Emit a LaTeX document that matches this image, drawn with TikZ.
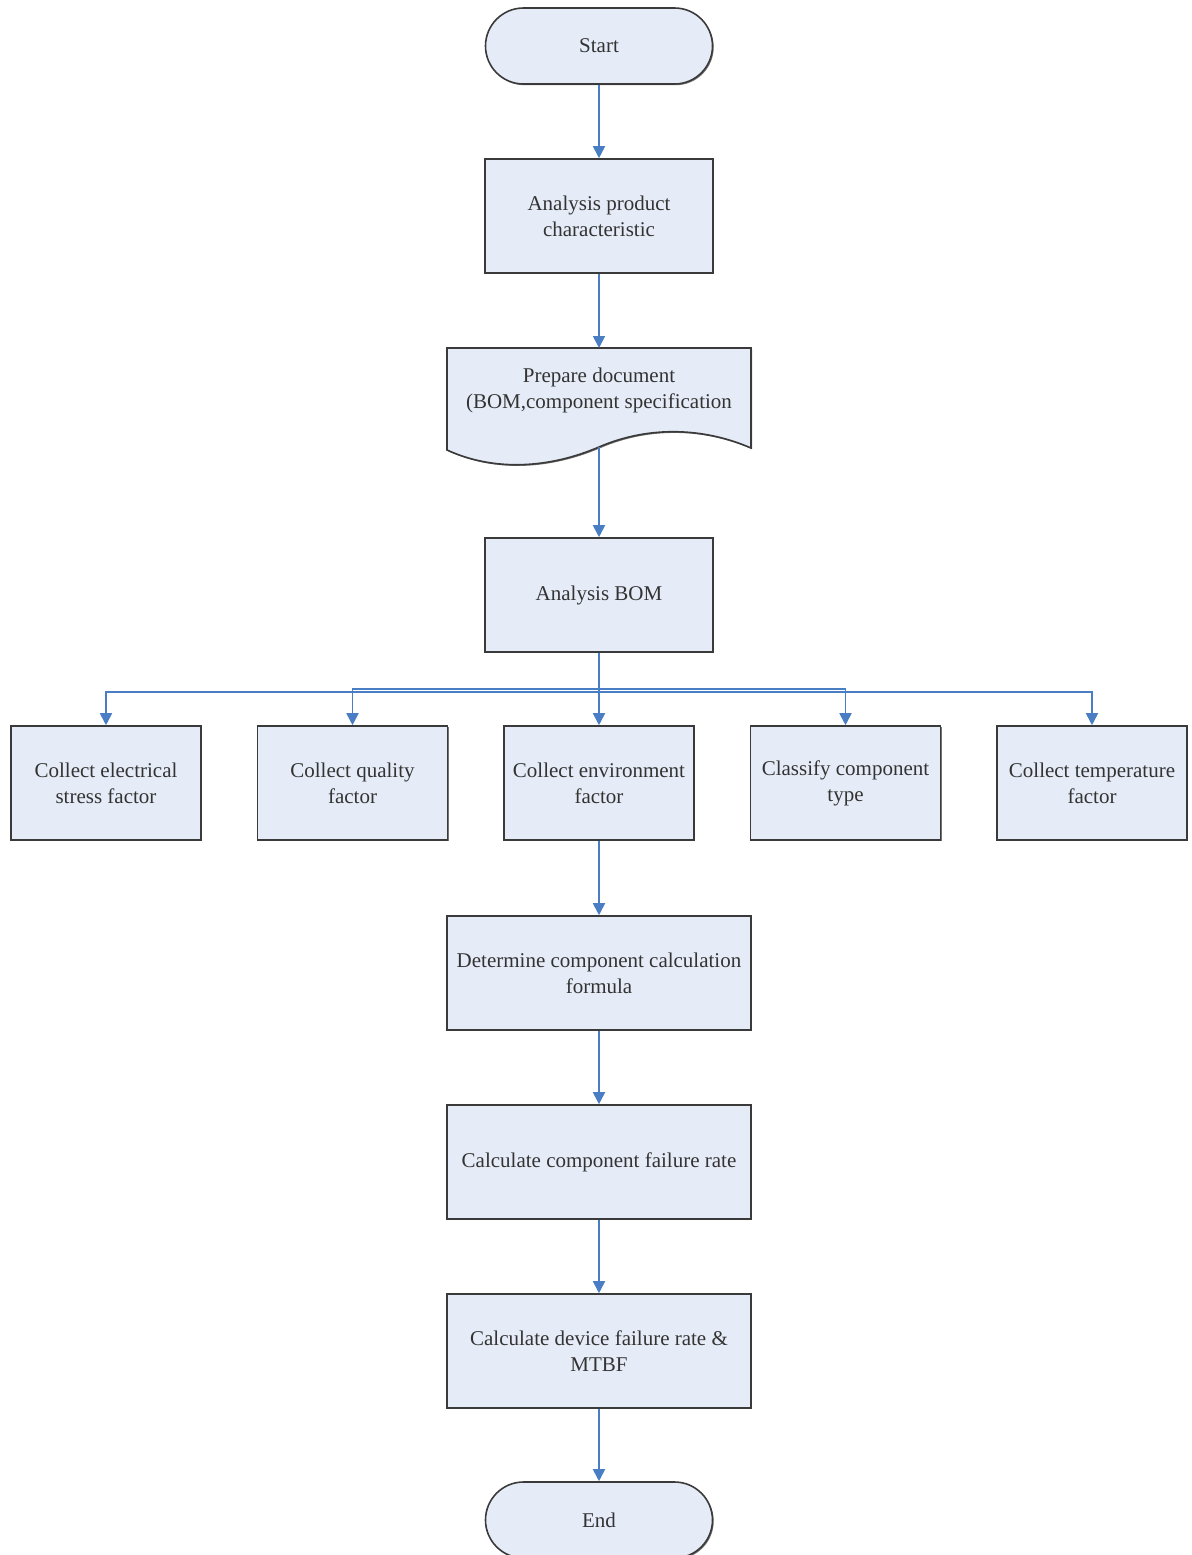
\documentclass[tikz,border=0pt]{standalone}
\usepackage{fontspec}
\setmainfont{Liberation Serif}
\usetikzlibrary{arrows.meta,positioning,shadows}
\definecolor{boxfill}{HTML}{E6ECF7}
\definecolor{boxline}{HTML}{3A3A3A}
\definecolor{flow}{HTML}{4A7EC4}

\begin{document}
\begin{tikzpicture}[
  x=0.5pt, y=0.5pt,
  font=\fontsize{10.5}{13}\selectfont,
  proc/.style={draw=boxline, fill=boxfill, line width=0.8pt, align=center, text=black!80,
    minimum width=114pt, minimum height=57pt, inner sep=1pt,
    drop shadow={shadow xshift=0.6pt, shadow yshift=-0.6pt, fill=black!55, opacity=1}},
  wide/.style={proc, minimum width=152pt},
  small/.style={proc, minimum width=95pt},
  term/.style={proc, rounded corners=19pt, minimum width=113.5pt, minimum height=38pt},
  arr/.style={-{Triangle[length=6pt, width=6pt]}, draw=flow, line width=0.9pt}
]
\useasboundingbox (0,0) rectangle (1191,-1555);

% Main column
\node[term] (start) at (599,-46) {Start};
\node[proc] (apc) at (599,-216) {Analysis product\\characteristic};

% Document shape
\path[draw=boxline, fill=boxfill, line width=0.8pt,
  drop shadow={shadow xshift=0.6pt, shadow yshift=-0.6pt, fill=black!55, opacity=1}]
  (447,-348) -- (751,-348) -- (751,-448)
  .. controls (705,-428) and (650,-425) .. (599,-447)
  .. controls (550,-468) and (495,-472) .. (447,-450) -- cycle;
\node[align=center, text=black!80, inner sep=1pt] (prep) at (599,-390)
  {Prepare document\\(BOM,component specification};
\coordinate (prepTop) at (599,-348);
\coordinate (prepBot) at (599,-447);

\node[proc] (bom) at (599,-595) {Analysis BOM};

% Five factor boxes
\node[small] (elec) at (106,-783) {Collect electrical\\stress factor};
\node[small] (qual) at (352.5,-783) {Collect quality\\factor};
\node[small] (envi) at (599,-783) {Collect environment\\factor};
\node[small] (ctype) at (845.5,-783) {Classify component\\type};
\node[small] (temp) at (1092,-783) {Collect temperature\\factor};

\node[wide] (formula) at (599,-973) {Determine component calculation\\formula};
\node[wide] (cfr) at (599,-1162) {Calculate component failure rate};
\node[wide] (dfr) at (599,-1351) {Calculate device failure rate \&\\MTBF};
\node[term] (end) at (599,-1520) {End};

% Connectors
\draw[arr] (start) -- (apc);
\draw[arr] (apc) -- (prepTop);
\draw[arr] (prepBot) -- (bom);

\draw[arr] (bom.south) -- ++(0,-39) -| (elec.north);
\draw[arr] (bom.south) -- ++(0,-36) -| (qual.north);
\draw[arr] (bom.south) -- (envi.north);
\draw[arr] (bom.south) -- ++(0,-36) -| (ctype.north);
\draw[arr] (bom.south) -- ++(0,-39) -| (temp.north);

\draw[arr] (envi) -- (formula);
\draw[arr] (formula) -- (cfr);
\draw[arr] (cfr) -- (dfr);
\draw[arr] (dfr) -- (end);

\end{tikzpicture}
\end{document}
